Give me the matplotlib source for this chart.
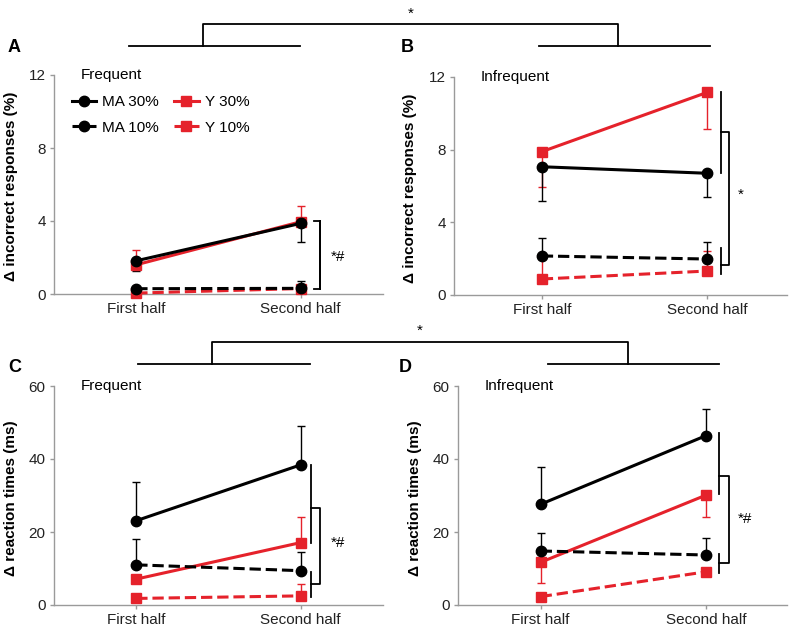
import numpy as np
import matplotlib.pyplot as plt
from matplotlib.lines import Line2D
from matplotlib.legend_handler import HandlerLine2D

plt.rcParams['font.family'] = ['Liberation Sans', 'DejaVu Sans']
plt.rcParams['font.size'] = 11

# ---- data ----
x_pos = [1, 2]
x_labels = ["First half", "Second half"]

# A: Frequent, incorrect responses (%); *_end = tip of the one-sided error bar
a_ma30 = [1.82, 3.87];  a_ma30_end = [1.26, 2.87]
a_y30 = [1.60, 3.96];   a_y30_end = [2.39, 4.84]
a_ma10 = [0.29, 0.31];  a_ma10_end = [0.29, 0.73]
a_y10 = [0.05, 0.30];   a_y10_end = [0.05, 0.30]

# B: Infrequent, incorrect responses (%)
b_ma30 = [7.06, 6.70];  b_ma30_end = [5.19, 5.38]
b_y30 = [7.89, 11.16];  b_y30_end = [5.96, 9.12]
b_ma10 = [2.15, 1.98];  b_ma10_end = [3.16, 2.93]
b_y10 = [0.88, 1.32];   b_y10_end = [2.00, 2.44]

# C: Frequent, reaction times (ms)
c_ma30 = [23.1, 38.4];  c_ma30_end = [33.7, 49.1]
c_y30 = [7.1, 17.1];    c_y30_end = [7.1, 24.2]
c_ma10 = [11.0, 9.4];   c_ma10_end = [18.0, 14.4]
c_y10 = [1.8, 2.5];     c_y10_end = [1.8, 5.75]

# D: Infrequent, reaction times (ms)
d_ma30 = [27.6, 46.4];  d_ma30_end = [37.9, 53.7]
d_y30 = [11.7, 30.1];   d_y30_end = [6.1, 24.2]
d_ma10 = [14.8, 13.7];  d_ma10_end = [19.8, 18.3]
d_y10 = [2.3, 9.1];     d_y10_end = [2.3, 9.1]

RED = '#e5222b'
GREY = '#9a9a9a'


class LeftMarker(HandlerLine2D):
    # marker at the left end of the legend line
    def get_xdata(self, legend, xdescent, ydescent, width, height, fontsize):
        return np.array([-xdescent, -xdescent + width]), np.array([-xdescent])


fig = plt.figure(figsize=(7.94, 6.3), dpi=100)


def px(x, y):
    return x / 794, 1 - y / 630


def fig_line(xs, ys):
    fx = [x / 794 for x in xs]
    fy = [1 - y / 630 for y in ys]
    fig.add_artist(Line2D(fx, fy, transform=fig.transFigure, color='k', lw=1.3))


def draw_series(ax, vals, ends, color, ls, marker, label):
    for xi, v, e in zip(x_pos, vals, ends):
        if e != v:
            ax.errorbar(xi, v, yerr=[[max(v - e, 0)], [max(e - v, 0)]], fmt='none',
                        ecolor=color, elinewidth=1, capsize=3, capthick=1, zorder=2)
    ms = 7.5 if marker == 'o' else 7
    line, = ax.plot(x_pos, vals, color=color, ls=ls, lw=2.2, marker=marker, ms=ms,
                    zorder=3, label=label, clip_on=False)
    return line


def bracket(ax, xin, xout, upper, lower, mid_top, mid_bot, txt, tx, ty):
    kw = dict(color='k', lw=1.3, clip_on=False)
    ax.plot([xin, xin], upper, **kw)
    ax.plot([xin, xin], lower, **kw)
    ax.plot([xin, xout, xout, xin], [mid_top, mid_top, mid_bot, mid_bot], **kw)
    ax.text(tx, ty, txt, ha='left', va='center', fontsize=11)


panels = [
    ('A', (54, 383, 75, 294), 'Frequent', 'Δ incorrect responses (%)', (0, 12), [0, 4, 8, 12], (0.5, 2.5),
     [(a_y30, a_y30_end, RED, '-', 's', 'Y 30%'), (a_y10, a_y10_end, RED, '--', 's', 'Y 10%'),
      (a_ma30, a_ma30_end, 'k', '-', 'o', 'MA 30%'), (a_ma10, a_ma10_end, 'k', '--', 'o', 'MA 10%')]),
    ('B', (454, 787, 77, 295), 'Infrequent', 'Δ incorrect responses (%)', (0, 12), [0, 4, 8, 12], (0.47, 2.48),
     [(b_y30, b_y30_end, RED, '-', 's', 'Y 30%'), (b_y10, b_y10_end, RED, '--', 's', 'Y 10%'),
      (b_ma30, b_ma30_end, 'k', '-', 'o', 'MA 30%'), (b_ma10, b_ma10_end, 'k', '--', 'o', 'MA 10%')]),
    ('C', (54, 383, 386, 605), 'Frequent', 'Δ reaction times (ms)', (0, 60), [0, 20, 40, 60], (0.5, 2.5),
     [(c_y30, c_y30_end, RED, '-', 's', 'Y 30%'), (c_y10, c_y10_end, RED, '--', 's', 'Y 10%'),
      (c_ma30, c_ma30_end, 'k', '-', 'o', 'MA 30%'), (c_ma10, c_ma10_end, 'k', '--', 'o', 'MA 10%')]),
    ('D', (458, 787, 386, 605), 'Infrequent', 'Δ reaction times (ms)', (0, 60), [0, 20, 40, 60], (0.5, 2.49),
     [(d_y30, d_y30_end, RED, '-', 's', 'Y 30%'), (d_y10, d_y10_end, RED, '--', 's', 'Y 10%'),
      (d_ma30, d_ma30_end, 'k', '-', 'o', 'MA 30%'), (d_ma10, d_ma10_end, 'k', '--', 'o', 'MA 10%')]),
]

axes = {}
for letter, (l, r, t, b), title, ylabel, ylim, yticks, xlim, series in panels:
    ax = fig.add_axes([l / 794, 1 - b / 630, (r - l) / 794, (b - t) / 630])
    axes[letter] = ax
    lines = {}
    for vals, ends, color, ls, marker, label in series:
        lines[label] = draw_series(ax, vals, ends, color, ls, marker, label)
    ax.set_xlim(*xlim)
    ax.set_ylim(*ylim)
    ax.set_yticks(yticks)
    ax.set_xticks(x_pos)
    ax.set_xticklabels(x_labels)
    for s in ['top', 'right']:
        ax.spines[s].set_visible(False)
    for s in ['left', 'bottom']:
        ax.spines[s].set_color(GREY)
        ax.spines[s].set_linewidth(1)
    ax.tick_params(direction='out', length=3, width=1, color=GREY, labelcolor='#222222',
                   labelsize=11, pad=3)
    ax.set_ylabel(ylabel, fontweight='bold', fontsize=11)
    ax.yaxis.set_label_coords(-0.11, 0.49)
    ax.text(0.08, 1.0, title, transform=ax.transAxes, ha='left', va='center', fontsize=11)
    if letter == 'A':
        hs = [lines['MA 30%'], lines['MA 10%'], lines['Y 30%'], lines['Y 10%']]
        ax.legend(hs, [h.get_label() for h in hs], ncol=2, loc='upper left',
                  bbox_to_anchor=(0.035, 0.935), frameon=False, borderaxespad=0,
                  handlelength=1.6, handletextpad=0.4, columnspacing=1.0,
                  labelspacing=0.75, fontsize=11,
                  handler_map={Line2D: LeftMarker()})

# panel letters
for letter, (x, y) in zip('ABCD', [(8, 48), (401, 48), (8, 367), (399, 367)]):
    fig.text(*px(x, y), letter, fontsize=13, fontweight='bold', ha='left', va='center')

# brackets between the groups inside each panel
bracket(axes['A'], 2.12, 2.12, (4.02, 0.29), (0.29, 0.29), 4.02, 0.29, '*#', 2.18, 2.04)
axes['A'].plot([2.08, 2.12], [4.02, 4.02], color='k', lw=1.3, clip_on=False)
axes['A'].plot([2.08, 2.12], [0.29, 0.29], color='k', lw=1.3, clip_on=False)
bracket(axes['B'], 2.08, 2.13, (11.19, 6.70), (2.59, 1.16), 8.99, 1.65, '*', 2.18, 5.5)
bracket(axes['C'], 2.06, 2.12, (38.4, 17.1), (9.1, 2.1), 26.6, 5.7, '*#', 2.18, 17.0)
bracket(axes['D'], 2.08, 2.14, (47.0, 30.3), (14.0, 8.8), 35.3, 11.4, '*#', 2.19, 23.6)

# brackets across panels at the top of each row
fig_line([203, 203, 618, 618], [46, 24, 24, 46])
fig_line([129, 300], [46, 46])
fig_line([539, 710], [46, 46])
fig.text(*px(411, 14), '*', fontsize=11, ha='center', va='center')

fig_line([212, 212, 628, 628], [364, 342, 342, 364])
fig_line([138, 310], [364, 364])
fig_line([548, 719], [364, 364])
fig.text(*px(420, 331), '*', fontsize=11, ha='center', va='center')

fig.savefig('out.png', dpi=100)
